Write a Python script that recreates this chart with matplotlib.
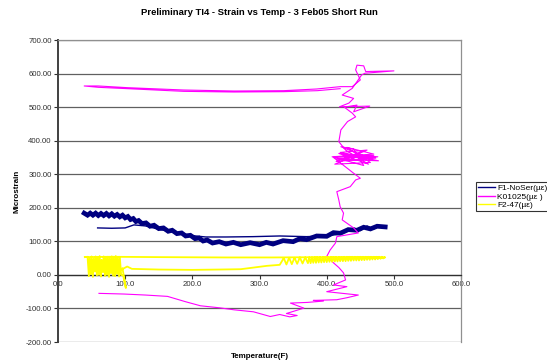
import matplotlib
matplotlib.use("Agg")
import matplotlib.pyplot as plt
from matplotlib.ticker import FormatStrFormatter, MultipleLocator

plt.rcParams['font.family'] = ['Liberation Sans', 'DejaVu Sans']

title = "Preliminary TI4 - Strain vs Temp - 3 Feb05 Short Run"
x_label = "Temperature(F)"
y_label = "Microstrain"
series_names = ["F1-NoSer(\u00b5\u03b5)", "K01025(\u00b5\u03b5 )", "F2-47(\u00b5\u03b5)"]

# F1-NoSer heating sweep (noisy, wide trace)
f1_heat_temp = [39, 44, 48, 52, 56, 60, 64, 68, 72, 76, 80, 84, 88, 92, 96, 100, 104, 108,
                112, 116, 120, 125, 131, 137, 143, 150, 157, 164, 170, 177, 184, 190, 197,
                204, 210, 216, 222, 230, 240, 250, 261, 272, 286, 300, 310, 320,
                335, 350, 360, 370, 385, 400, 410, 420, 432, 445, 455, 465, 475, 487]
f1_heat_strain = [184, 178, 184, 178, 184, 177, 183, 177, 183, 176, 182, 175, 180, 173, 178,
                  170, 174, 165, 168, 159, 162, 153, 155, 145, 148, 138, 140, 130, 133, 123,
                  125, 116, 118, 108, 110, 101, 104, 95, 99, 92, 97, 90, 96, 90, 97, 92,
                  102, 99, 108, 105, 116, 115, 126, 124, 135, 133, 142, 137, 145, 143]
# F1-NoSer cooling return
f1_cool_temp = [487, 478, 470, 460, 450, 440, 420, 400, 370, 330, 290, 250, 220, 205, 190,
                170, 150, 130, 113, 100, 80, 59]
f1_cool_strain = [142, 147, 137, 146, 132, 140, 122, 116, 114, 116, 114, 113, 113, 116, 121,
                  128, 136, 146, 149, 140, 139, 140]

# K01025: heating sweep (low branch), hold near 400-480 F, cooling sweep (high branch)
k_temp = [61, 98, 130, 163, 190, 212, 240, 262, 291, 316, 330, 345, 356, 340, 366, 346, 371,
          395, 380, 415, 430, 447, 400, 430, 410, 428, 425, 418, 410, 400, 405, 413, 415, 447, 440,
          423, 425, 420, 418, 415, 435, 443, 450, 440,
          410, 470, 415, 477, 420, 460, 412, 465, 430, 470, 408, 455, 440, 421, 468, 425,
          473, 414, 452, 436, 476, 418, 462, 428,
          418, 421, 431, 443, 438, 426, 445, 440, 464, 419, 433, 440, 423, 438, 452,
          457, 500, 458, 455, 445, 443, 450, 438, 420, 400, 385, 336, 262, 187, 103, 60, 39,
          60, 103, 187, 262, 336, 386, 420]
k_strain = [-55, -57, -60, -64, -80, -92, -98, -104, -110, -124, -118, -125, -121, -115, -99, -84, -82,
            -78, -76, -74, -68, -60, -50, -35, -30, -15, 6, 22, 36, 55, 74, 95, 114, 125, 140,
            164, 184, 203, 223, 248, 263, 283, 288, 303,
            350, 355, 345, 340, 365, 372, 330, 335, 380, 360, 352, 326, 375, 382, 344, 358,
            348, 338, 368, 342, 352, 362, 330, 372,
            397, 432, 457, 471, 482, 500, 506, 486, 503, 501, 512, 526, 536, 556, 596,
            601, 608, 606, 623, 625, 611, 581, 561, 561, 557, 554, 549, 548, 551, 558, 563, 563,
            559, 555, 547, 545, 546, 549, 555]

# F2-47: noisy start below 95 F, heating line, noisy top end, cooling line
f2_temp = [40, 44, 46, 47, 49, 50, 52, 53, 55, 56, 58, 59, 61, 62, 64, 65, 67, 68, 70, 71,
           73, 74, 76, 77, 79, 80, 82, 83, 85, 86, 88, 89, 91, 92, 94, 97, 101, 96, 94, 103,
           110, 150, 200, 240, 272, 311, 330,
           336, 340, 344, 348, 352, 356, 360, 364, 368, 372,
           374, 376, 378, 380, 382, 384, 386, 388, 390, 392, 394, 396, 398, 400, 402, 404,
           406, 408, 410, 412, 414, 416, 418, 420, 422, 424, 426, 428, 430, 432, 434, 436,
           438, 440, 442, 444, 446, 448, 450, 452, 454, 456, 458, 460, 462, 464, 466, 468,
           470, 472, 474, 476, 478, 480, 482, 484, 486, 487,
           470, 400, 320, 250, 150, 80, 40]
f2_strain = [53, 54, -4, 50, 2, 55, -6, 48, 10, 55, -2, 52, 0, 56, -5, 45, 8, 55, -3, 53,
             0, 54, -6, 50, 5, 55, -2, 52, -4, 56, 3, 50, -5, 54, 0, -2, -39, 20, 15, 25,
             18, 16, 15, 16, 17, 27, 30,
             50, 31, 51, 32, 51, 33, 52, 34, 52, 35,
             52, 35, 52, 36, 53, 36, 53, 37, 53, 37, 53, 38, 53, 38, 53, 39,
             53, 39, 53, 40, 53, 40, 53, 41, 53, 41, 54, 41, 54, 42, 54, 42,
             54, 43, 54, 43, 54, 43, 54, 44, 54, 44, 54, 45, 54, 45, 54, 46,
             54, 46, 54, 47, 54, 48, 54, 49, 53, 52,
             53, 53, 52, 52, 53, 54, 53]

fig = plt.figure(figsize=(5.47, 3.62), dpi=100)
ax = fig.add_axes([0.106, 0.0552, 0.737, 0.8343])

navy, magenta, yellow = '#000080', '#ff00ff', '#ffff00'
ax.plot(f1_heat_temp, f1_heat_strain, color=navy, lw=3.4, solid_joinstyle='miter', zorder=3)
ax.plot(f1_cool_temp, f1_cool_strain, color=navy, lw=1.0, label=series_names[0], zorder=3)
ax.plot(k_temp, k_strain, color=magenta, lw=0.8, label=series_names[1], zorder=4)
ax.plot(f2_temp, f2_strain, color=yellow, lw=1.3, label=series_names[2], zorder=5)

ax.set_xlim(0, 600)
ax.set_ylim(-200, 700)
ax.xaxis.set_major_locator(MultipleLocator(100))
ax.yaxis.set_major_locator(MultipleLocator(100))
ax.xaxis.set_major_formatter(FormatStrFormatter('%.1f'))
ax.yaxis.set_major_formatter(FormatStrFormatter('%.2f'))

ax.grid(axis='y', color='#606060', lw=0.9, zorder=1)
ax.set_axisbelow(True)

ax.spines['bottom'].set_position(('data', 0))
ax.spines['bottom'].set_color('#303030')
ax.spines['bottom'].set_linewidth(0.9)
ax.spines['left'].set_color('#404040')
ax.spines['left'].set_linewidth(1.4)
for s in ('top', 'right'):
    ax.spines[s].set_color('#909090')
    ax.spines[s].set_linewidth(0.9)

ax.tick_params(axis='both', labelsize=5.6, colors='#303030', length=3, width=0.8, pad=1.5)
ax.tick_params(axis='x', direction='out')

ax.set_title(title, fontsize=6.8, fontweight='bold', pad=18)
ax.set_xlabel(x_label, fontsize=5.8, fontweight='bold')
ax.xaxis.set_label_coords(0.5, -0.035)
ax.set_ylabel(y_label, fontsize=5.8, fontweight='bold', labelpad=4)

leg = ax.legend(loc='upper left', bbox_to_anchor=(1.037, 0.53), fontsize=6.0, frameon=True,
                fancybox=False, edgecolor='black', borderpad=0.25, handlelength=2.0,
                handletextpad=0.3, labelspacing=0.1, borderaxespad=0)
leg.get_frame().set_linewidth(0.8)
for h in leg.get_lines():
    h.set_linewidth(1.0)

fig.savefig('out.png', dpi=100)
